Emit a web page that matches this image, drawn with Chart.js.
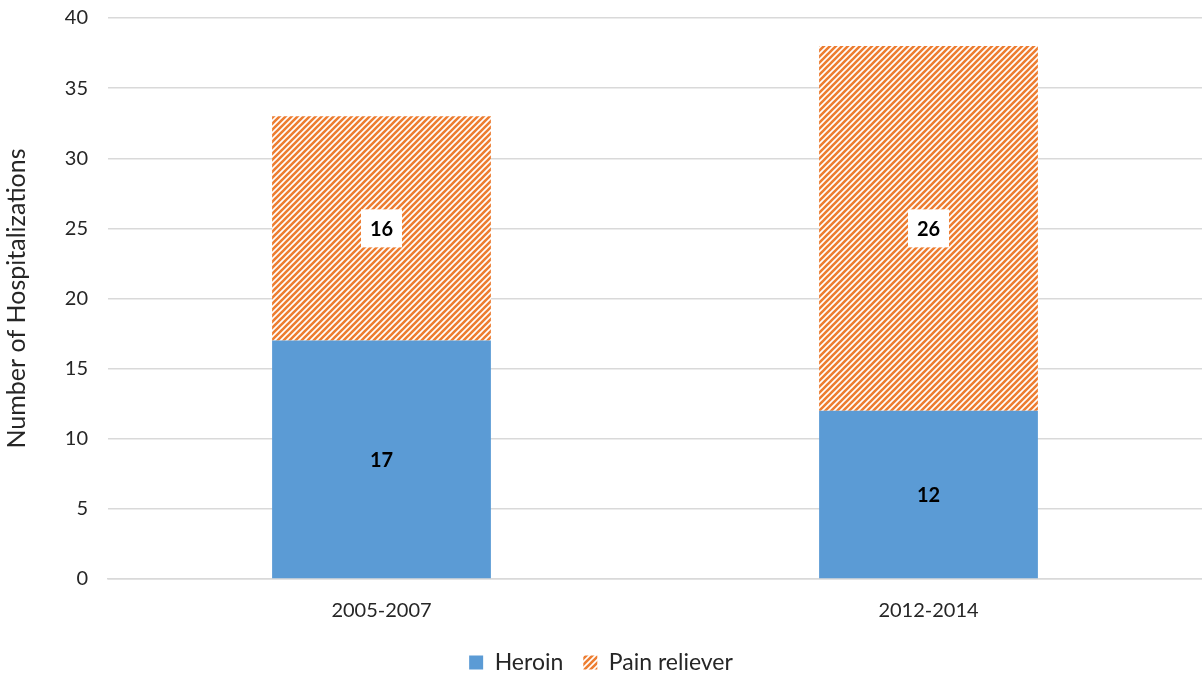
<!DOCTYPE html>
<html><head><meta charset="utf-8">
<script src="https://cdn.jsdelivr.net/npm/chart.js@4/dist/chart.umd.min.js"></script>
<style>html,body{margin:0;padding:0;background:#fff}#wrap{width:1202px;height:674px}</style>
</head><body><div id="wrap"><canvas id="c" width="1202" height="674"></canvas></div>
<script>
const categories = ["2005-2007", "2012-2014"];
const heroin = [17, 12];
const painReliever = [16, 26];
const yTicks = [0, 5, 10, 15, 20, 25, 30, 35, 40];

const FONT = 'Lato, "Open Sans", sans-serif';

function hatch(color) {
  const s = 6;
  const c = document.createElement('canvas');
  c.width = s; c.height = s;
  const g = c.getContext('2d');
  g.fillStyle = '#fff'; g.fillRect(0, 0, s, s);
  g.strokeStyle = color; g.lineWidth = 2.6;
  g.beginPath();
  g.moveTo(-1, s + 1); g.lineTo(s + 1, -1);
  g.moveTo(-1, 1); g.lineTo(1, -1);
  g.moveTo(s - 1, s + 1); g.lineTo(s + 1, s - 1);
  g.stroke();
  return g.createPattern(c, 'repeat');
}
const orangeHatch = hatch('#ED7D31');

const labelPlugin = {
  id: 'boxLabels',
  afterDatasetsDraw(chart) {
    const ctx = chart.ctx;
    ctx.save();
    ctx.font = 'bold 20px ' + FONT;
    ctx.textAlign = 'center'; ctx.textBaseline = 'middle';
    chart.data.datasets.forEach((ds, i) => {
      const meta = chart.getDatasetMeta(i);
      meta.data.forEach((bar, j) => {
        const v = ds.data[j];
        const y = (bar.y + bar.base) / 2;
        const t = String(v);
        if (ds.boxed) {
          const w = 41;
          ctx.fillStyle = '#fff';
          ctx.fillRect(bar.x - w / 2, y - 19, w, 38);
        }
        ctx.fillStyle = '#000';
        ctx.fillText(t, bar.x, y + 1);
      });
    });
    ctx.restore();
  }
};

new Chart(document.getElementById('c'), {
  type: 'bar',
  data: {
    labels: categories,
    datasets: [
      { label: 'Heroin', data: heroin, backgroundColor: '#5B9BD5', boxed: false,
        categoryPercentage: 1, barPercentage: 0.4 },
      { label: 'Pain reliever', data: painReliever, backgroundColor: orangeHatch, boxed: true,
        categoryPercentage: 1, barPercentage: 0.4 }
    ]
  },
  options: {
    responsive: false, animation: false,
    layout: { padding: { left: 0, right: 0, top: 18, bottom: -10 } },
    plugins: {
      legend: {
        position: 'bottom',
        labels: { font: { size: 23, family: FONT }, color: '#262626',
          boxWidth: 14, boxHeight: 14, padding: 20 }
      },
      tooltip: { enabled: false }
    },
    scales: {
      x: {
        stacked: true,
        grid: { display: false, drawTicks: false },
        border: { display: true, color: '#d9d9d9', width: 1.5 },
        ticks: { font: { size: 20, family: FONT }, color: '#262626', padding: 20 },
        afterFit(s) { s.height = 52; }
      },
      y: {
        stacked: true, min: 0, max: 40,
        afterBuildTicks(s) { s.ticks = yTicks.map(v => ({ value: v })); },
        grid: { color: '#d9d9d9', lineWidth: 1.5, drawTicks: true, tickLength: 20, tickColor: 'rgba(0,0,0,0)' },
        border: { display: false },
        ticks: { font: { size: 20, family: FONT }, color: '#262626', padding: 0 },
        title: { display: true, text: 'Number of Hospitalizations',
          font: { size: 25, family: FONT }, color: '#262626', padding: { top: 2, bottom: 0 } },
        afterFit(s) { s.width = 108; }
      }
    }
  },
  plugins: [labelPlugin]
});
</script></body></html>
